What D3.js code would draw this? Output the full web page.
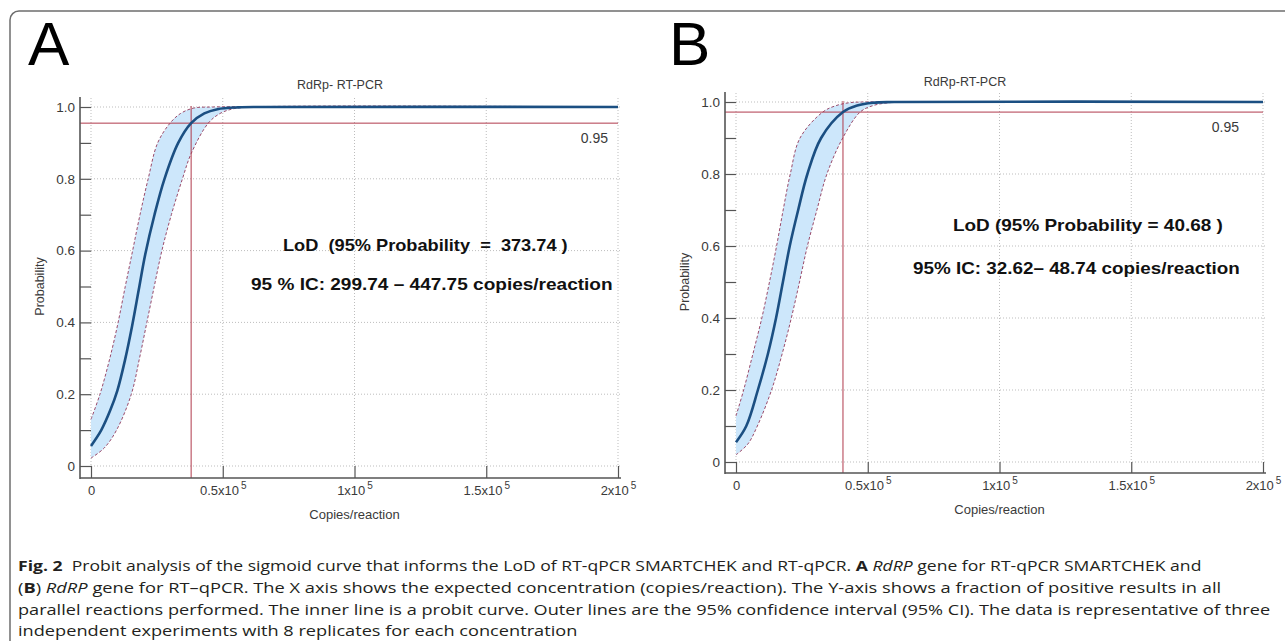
<!DOCTYPE html>
<html lang="en">
<head>
<meta charset="UTF-8">
<title>Probit analysis - LoD RdRp</title>
<script src="https://d3js.org/d3.v7.min.js"></script>
<style>
  body { margin: 0; background: #fff; }
  svg { display: block; }
  .chart text { font-family: "Liberation Sans Narrow", "Liberation Sans", Arial, sans-serif; fill: #3a3a3a; }
  .chart .lod { font-family: "Liberation Sans", Arial, sans-serif; font-weight: bold; fill: #111; white-space: pre; }
  .caption { font-family: "Open Sans", "Noto Sans", sans-serif; font-size: 15px; fill: #231f20; white-space: pre; }
  .chart .big { font-family: "Liberation Sans", Arial, sans-serif; fill: #000; }
</style>
</head>
<body>
<svg id="fig" width="1285" height="641"></svg>
<script>
// ---- data ----
const xTicks = [0, 50000, 100000, 150000, 200000];
const xTickLabels = ["0", "0.5x10", "1x10", "1.5x10", "2x10"];
const xTickExp = ["", "5", "5", "5", "5"];
const yMajor = [0, 0.2, 0.4, 0.6, 0.8, 1.0];
const yMajorLabels = ["0", "0.2", "0.4", "0.6", "0.8", "1.0"];
const yMinor = [0.1, 0.3, 0.5, 0.7, 0.9];

// panel A  [copies/reaction, probability]
const aTitle = "RdRp- RT-PCR";
const aProbit = [[0,0.056],[3900,0.10],[7300,0.155],[10000,0.21],[12900,0.295],[15600,0.39],[18100,0.49],[20600,0.59],
  [24100,0.70],[27900,0.80],[33100,0.90],[38000,0.955],[43000,0.982],[48000,0.994],[56000,0.999],[65000,1.0],[200000,1.0]];
const aUpper = [[0,0.13],[3400,0.20],[6800,0.29],[10000,0.39],[13000,0.50],[15800,0.60],[18600,0.70],[21700,0.80],[25300,0.90],
  [30000,0.955],[34000,0.982],[39000,0.997],[46000,1.0],[200000,1.0]];
const aLower = [[0,0.022],[5000,0.05],[9700,0.10],[15300,0.20],[18400,0.30],[21200,0.40],[24000,0.50],[26900,0.60],[30500,0.70],[34700,0.80],
  [38000,0.87],[44500,0.955],[49000,0.982],[54000,0.995],[61000,1.0],[200000,1.0]];
const aLod = [38000, 0.955];
const aText = ["LoD  (95% Probability  =  373.74 )", "95 % IC: 299.74 \u2013 447.75 copies/reaction"];

// panel B
const bTitle = "RdRp-RT-PCR";
const bProbit = [[0,0.055],[3900,0.10],[8300,0.20],[12100,0.30],[15200,0.40],[17800,0.50],[20400,0.60],[23600,0.70],
  [27100,0.80],[32300,0.90],[40600,0.972],[46000,0.99],[52000,0.998],[60000,1.0],[200000,1.0]];
const bUpper = [[0,0.128],[2900,0.20],[6400,0.30],[9800,0.40],[12700,0.50],[15400,0.60],[17900,0.70],[20600,0.80],[24300,0.90],[32900,0.972],
  [38000,0.99],[43000,0.998],[48000,1.0],[200000,1.0]];
const bLower = [[0,0.02],[4500,0.05],[8100,0.10],[13500,0.20],[17500,0.30],[21000,0.40],[24100,0.50],[27100,0.60],[30700,0.70],[34500,0.80],[40500,0.90],
  [47100,0.972],[52000,0.99],[58000,0.998],[64000,1.0],[200000,1.0]];
const bLod = [40600, 0.972];
const bText = ["LoD (95% Probability = 40.68 )", "95% IC: 32.62\u2013 48.74 copies/reaction"];

const refLabel = "0.95";

// caption, each run: [text, style]
const caption = [
  [["Fig. 2", "b"], ["  Probit analysis of the sigmoid curve that informs the LoD of RT-qPCR SMARTCHEK and RT-qPCR. ", ""], ["A", "b"], [" ", ""], ["RdRP", "i"], [" gene for RT-qPCR SMARTCHEK and", ""]],
  [["(", ""], ["B", "b"], [") ", ""], ["RdRP", "i"], [" gene for RT\u2013qPCR. The X axis shows the expected concentration (copies/reaction). The Y-axis shows a fraction of positive results in all", ""]],
  [["parallel reactions performed. The inner line is a probit curve. Outer lines are the 95% confidence interval (95% CI). The data is representative of three", ""]],
  [["independent experiments with 8 replicates for each concentration", ""]]
];

const svg = d3.select("#fig");

// squeeze a text element horizontally into [left, left+width]
function fitBox(sel, left, width) {
  const b = sel.node().getBBox();
  sel.attr("transform", `translate(${left},0) scale(${width / b.width},1) translate(${-b.x},0)`);
}

// frame (bottom edge runs just past the crop)
svg.append("rect").attr("x", 10).attr("y", 11).attr("width", 1300).attr("height", 640)
  .attr("rx", 9).attr("fill", "none").attr("stroke", "#6e6e6e").attr("stroke-width", 1.5);

function panel(c) {
  const g = svg.append("g").attr("class", "chart");
  const x = d3.scaleLinear().domain([0, 200000]).range([c.x0, c.x1]);
  const y = d3.scaleLinear().domain([0, 1]).range([c.y0, c.y1]);

  g.append("text").attr("class", "big").attr("x", c.letterX).attr("y", 65)
    .attr("font-size", 62).text(c.letter);

  // grid
  g.append("g").selectAll("line").data(xTicks).join("line")
    .attr("x1", d => x(d)).attr("x2", d => x(d)).attr("y1", y(1) - 9).attr("y2", y(0))
    .attr("stroke", "#bdbdbd").attr("stroke-dasharray", "1,2");
  g.append("g").selectAll("line").data(yMajor).join("line")
    .attr("x1", x(0)).attr("x2", x(200000) + 4).attr("y1", d => y(d)).attr("y2", d => y(d))
    .attr("stroke", "#bdbdbd").attr("stroke-dasharray", "1,2");

  const line = d3.line().x(d => x(d[0])).y(d => y(d[1])).curve(d3.curveCatmullRom.alpha(0.5));

  // confidence band
  const up = line(c.upper);
  const lo = line(c.lower.slice().reverse());
  g.append("path").attr("d", up + "L" + lo.slice(1) + "Z").attr("fill", "#cde7fb");
  [c.upper, c.lower].forEach(s => g.append("path").attr("d", line(s)).attr("fill", "none")
    .attr("stroke", "#9a4a6a").attr("stroke-width", 1).attr("stroke-dasharray", "3,2"));

  // LoD cross-hair
  g.append("line").attr("x1", c.axisX).attr("x2", x(200000)).attr("y1", y(c.lod[1])).attr("y2", y(c.lod[1]))
    .attr("stroke", "#b03a4c").attr("stroke-width", 1);
  g.append("line").attr("x1", x(c.lod[0])).attr("x2", x(c.lod[0])).attr("y1", y(1) - 1).attr("y2", c.axisY)
    .attr("stroke", "#b03a4c").attr("stroke-width", 1);

  // probit curve
  g.append("path").attr("d", line(c.probit)).attr("fill", "none")
    .attr("stroke", "#1b4f82").attr("stroke-width", 2.6);

  // axes
  const xa = g.append("g").attr("transform", `translate(0,${c.axisY})`)
    .call(d3.axisBottom(x).tickValues(xTicks).tickSize(-(c.axisY - y(0))).tickSizeOuter(0)
      .tickPadding(8).tickFormat((d, i) => xTickLabels[i]));
  xa.selectAll(".tick text").attr("font-size", 13).append("tspan")
    .attr("dx", 2).attr("dy", -6).attr("font-size", 10).text((d, i) => xTickExp[i]);
  const ya = g.append("g").attr("transform", `translate(${c.axisX},0)`)
    .call(d3.axisLeft(y).tickValues(yMajor).tickSize(-(x(0) - c.axisX)).tickSizeOuter(0)
      .tickPadding(5).tickFormat((d, i) => yMajorLabels[i]));
  ya.selectAll(".tick text").attr("font-size", 13.5);
  g.append("g").attr("transform", `translate(${c.axisX},0)`)
    .call(d3.axisLeft(y).tickValues(yMinor).tickSize(-(x(0) - c.axisX)).tickSizeOuter(0).tickFormat(""));
  g.selectAll(".domain").remove();
  g.selectAll(".tick line").attr("stroke", "#555").attr("stroke-width", 1.2);
  g.append("line").attr("x1", c.axisX).attr("x2", c.axisX).attr("y1", y(1) - 10).attr("y2", c.axisY + 1)
    .attr("stroke", "#555").attr("stroke-width", 1.6);
  g.append("line").attr("x1", c.axisX).attr("x2", x(200000) + 3).attr("y1", c.axisY).attr("y2", c.axisY)
    .attr("stroke", "#555").attr("stroke-width", 1.6);

  // titles
  g.append("text").attr("x", c.titleX).attr("y", c.titleY).attr("text-anchor", "middle")
    .attr("font-size", 12.5).text(c.title);
  g.append("text").attr("x", (x(0) + x(200000)) / 2).attr("y", c.axisY + 41).attr("text-anchor", "middle")
    .attr("font-size", 13).text("Copies/reaction");
  g.append("text").attr("transform", `translate(${c.axisX - 36},${(y(0) + y(1)) / 2}) rotate(-90)`)
    .attr("text-anchor", "middle").attr("font-size", 12.5).text("Probability");
  g.append("text").attr("x", c.refX).attr("y", c.refY).attr("text-anchor", "end")
    .attr("font-size", 14).text(refLabel);

  c.text.forEach((t, i) => {
    const tt = g.append("text").attr("class", "lod").attr("x", c.textBox[i][0]).attr("y", c.textBox[i][2])
      .attr("font-size", 16.5).text(t);
    fitBox(tt, c.textBox[i][0], c.textBox[i][1]);
  });
}

panel({ letter: "A", letterX: 28, x0: 91, x1: 618, y0: 466, y1: 107, axisX: 80, axisY: 478,
  title: aTitle, titleX: 340, titleY: 89, refX: 608, refY: 143,
  probit: aProbit, upper: aUpper, lower: aLower, lod: aLod, text: aText,
  textBox: [[283, 285, 251], [251, 362, 290]] });
panel({ letter: "B", letterX: 669, x0: 736, x1: 1263, y0: 462, y1: 102, axisX: 725, axisY: 473,
  title: bTitle, titleX: 965, titleY: 86, refX: 1239, refY: 132,
  probit: bProbit, upper: bUpper, lower: bLower, lod: bLod, text: bText,
  textBox: [[953, 270, 231], [913, 327, 274]] });

// caption
const capY = [571.5, 593.5, 615, 636];
const capW = [1184, 1204, 1254, 560];
caption.forEach((runs, i) => {
  const t = svg.append("text").attr("class", "caption").attr("x", 18).attr("y", capY[i]);
  runs.forEach(r => {
    const s = t.append("tspan").text(r[0]);
    if (r[1] === "b") s.attr("font-weight", "bold");
    if (r[1] === "i") s.attr("font-style", "italic");
  });
  fitBox(t, 18, capW[i]);
});
</script>
</body>
</html>
